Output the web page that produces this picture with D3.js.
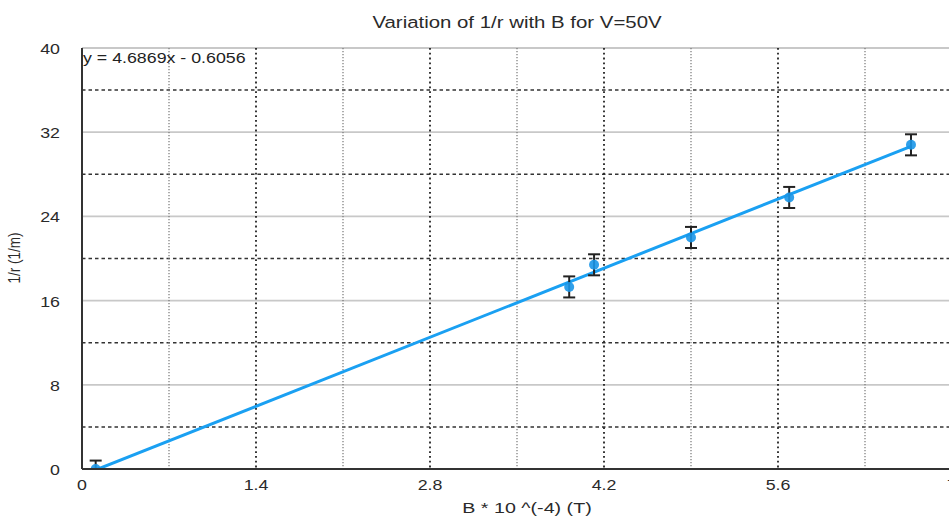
<!DOCTYPE html>
<html>
<head>
<meta charset="utf-8">
<script src="https://cdn.jsdelivr.net/npm/d3@7"></script>
<style>
  body { margin: 0; background: #fff; }
  svg { display: block; font-family: 'Liberation Sans', Arial, sans-serif; }
</style>
</head>
<body>
<div id="chart"></div>
<script>
const bValues = [0.11, 3.92, 4.12, 4.90, 5.69, 6.67]
const invR = [0.0, 17.3, 19.4, 22.0, 25.8, 30.8]
const errors = [0.8, 1.0, 1.0, 1.0, 1.0, 1.0]
const xTicks = [0, 1.4, 2.8, 4.2, 5.6, 7]
const xMinor = [0.7, 2.1, 3.5, 4.9, 6.3]
const yTicks = [0, 8, 16, 24, 32, 40]
const yMinor = [4, 12, 20, 28, 36]
const slope = 4.6869
const intercept = -0.6056

const W = 949, H = 519
const margin = {top: 48, left: 82}
const plotW = 870, plotH = 421
// the source picture is stretched sideways, so text is widened to match
const sx = 1.27

const svg = d3.select('#chart').append('svg')
  .attr('width', W).attr('height', H)

const x = d3.scaleLinear().domain([0, 7]).range([0, plotW])
const y = d3.scaleLinear().domain([0, 40]).range([plotH, 0])

function label(parent, px, py, txt, size, anchor) {
  return parent.append('text')
    .attr('transform', `translate(${px},${py}) scale(${sx},1)`)
    .attr('text-anchor', anchor || 'middle')
    .attr('font-size', size)
    .attr('fill', '#2a2a2a')
    .text(txt)
}

label(svg, 517, 28, 'Variation of 1/r with B for V=50V', 17).attr('transform', `translate(517,28) scale(1.2,1)`)

const g = svg.append('g').attr('transform', `translate(${margin.left},${margin.top})`)

svg.append('defs').append('clipPath').attr('id', 'clip')
  .append('rect').attr('width', plotW).attr('height', plotH)

// horizontal grid
g.selectAll('.hmaj').data(yTicks.slice(1)).enter().append('line')
  .attr('x1', 0).attr('x2', plotW)
  .attr('y1', d => y(d)).attr('y2', d => y(d))
  .attr('stroke', '#c8c8c8').attr('stroke-width', 1.8)
g.selectAll('.hmin').data(yMinor).enter().append('line')
  .attr('x1', 0).attr('x2', plotW)
  .attr('y1', d => y(d)).attr('y2', d => y(d))
  .attr('stroke', '#333').attr('stroke-width', 1.5)
  .attr('stroke-dasharray', '3.5,3')

// vertical grid
g.selectAll('.vmaj').data(xTicks.slice(1)).enter().append('line')
  .attr('y1', 0).attr('y2', plotH)
  .attr('x1', d => x(d)).attr('x2', d => x(d))
  .attr('stroke', '#222').attr('stroke-width', 1.8)
  .attr('stroke-dasharray', '1.8,3')
g.selectAll('.vmin').data(xMinor).enter().append('line')
  .attr('y1', 0).attr('y2', plotH)
  .attr('x1', d => x(d)).attr('x2', d => x(d))
  .attr('stroke', '#777').attr('stroke-width', 1.2)
  .attr('stroke-dasharray', '1.2,1.8')

// equation (grid shows through it in the source)
label(g, 1, 15, `y = ${slope}x - ${Math.abs(intercept)}`, 14, 'start')
  .attr('fill', '#222')

const plot = g.append('g').attr('clip-path', 'url(#clip)')

// fit line
const x0 = d3.min(bValues), x1 = d3.max(bValues)
plot.append('line')
  .attr('x1', x(x0)).attr('y1', y(slope * x0 + intercept))
  .attr('x2', x(x1)).attr('y2', y(slope * x1 + intercept))
  .attr('stroke', '#1aa0f2').attr('stroke-width', 3)

const pts = bValues.map((b, i) => ({b: b, v: invR[i], e: errors[i]}))

// error bars
const eb = plot.selectAll('.eb').data(pts).enter().append('g')
eb.append('line')
  .attr('x1', d => x(d.b)).attr('x2', d => x(d.b))
  .attr('y1', d => y(d.v + d.e)).attr('y2', d => y(d.v - d.e))
  .attr('stroke', '#222').attr('stroke-width', 2)
eb.append('line')
  .attr('x1', d => x(d.b) - 6).attr('x2', d => x(d.b) + 6)
  .attr('y1', d => y(d.v + d.e)).attr('y2', d => y(d.v + d.e))
  .attr('stroke', '#222').attr('stroke-width', 2)
eb.append('line')
  .attr('x1', d => x(d.b) - 6).attr('x2', d => x(d.b) + 6)
  .attr('y1', d => y(d.v - d.e)).attr('y2', d => y(d.v - d.e))
  .attr('stroke', '#222').attr('stroke-width', 2)

plot.selectAll('.pt').data(pts).enter().append('circle')
  .attr('cx', d => x(d.b)).attr('cy', d => y(d.v))
  .attr('r', 5).attr('fill', '#1a96e8').attr('fill-opacity', 0.9)

// axes
g.append('line').attr('x1', 0).attr('x2', 0).attr('y1', 0).attr('y2', plotH)
  .attr('stroke', '#333').attr('stroke-width', 2)
g.append('line').attr('x1', 0).attr('x2', plotW).attr('y1', plotH).attr('y2', plotH)
  .attr('stroke', '#333').attr('stroke-width', 2)

yTicks.forEach(d => label(g, -22, y(d) + 6, d, 14, 'end'))
xTicks.forEach(d => label(g, x(d), plotH + 21, d, 14))

label(svg, 527, 513, 'B * 10 ^(-4) (T)', 15.5)

svg.append('text')
  .attr('transform', 'translate(20,258) rotate(-90) scale(1,1.25)')
  .attr('text-anchor', 'middle')
  .attr('font-size', 13.5).attr('fill', '#2a2a2a')
  .text('1/r (1/m)')
</script>
</body>
</html>
